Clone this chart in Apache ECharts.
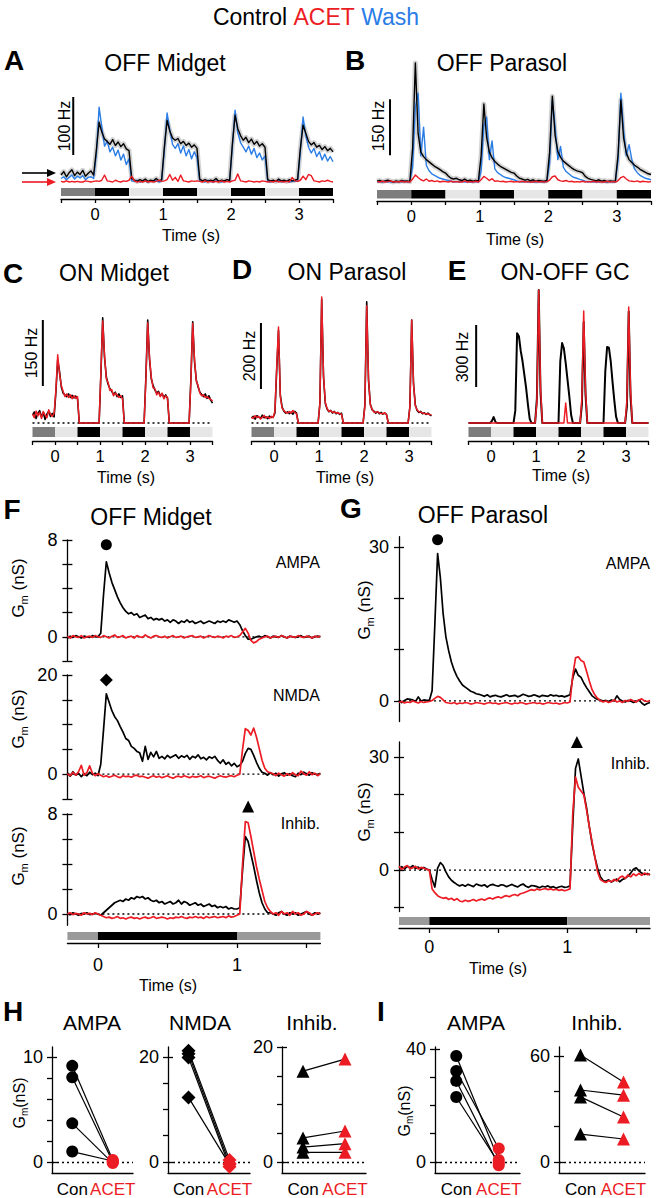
<!DOCTYPE html>
<html><head><meta charset="utf-8">
<script src="https://cdn.jsdelivr.net/npm/echarts@6/dist/echarts.min.js"></script>
<style>html,body{margin:0;padding:0;background:#fff}#c{width:656px;height:1198px}</style>
</head><body><div id="c"></div>
<script>
// ---------------- DATA ----------------
// sample times (s)
const tSpike = []; for (let i = 0; i <= 100; i++) tSpike.push(Math.round((-0.5 + 0.04 * i) * 100) / 100);
const tCond = []; for (let i = 0; i <= 91; i++) tCond.push(Math.round((-0.22 + 0.02 * i) * 100) / 100);

// stimulus segments: [start, end, level]  level 0 light, 1 dark, 2 grey, 3 mid grey
const stimOff = [[-0.5,0,2],[0,0.5,1],[0.5,1,0],[1,1.5,1],[1.5,2,0],[2,2.5,1],[2.5,3,0],[3,3.5,1]];
const stimOn  = [[-0.5,0,2],[0,0.5,0],[0.5,1,1],[1,1.5,0],[1.5,2,1],[2,2.5,0],[2.5,3,1],[3,3.5,0]];
const stimCond = [[-0.22,0,3],[0,1,1],[1,1.6,3]];

// A  OFF midget spike rate (Hz)
const aControl = [12,18,9,16,21,11,17,13,20,10,15,19,12,
 55,103,86,74,70,65,73,63,69,61,66,57,54,
 6,3,1,4,2,5,1,3,2,6,2,4,
 60,106,88,76,72,75,66,70,63,67,60,64,58,
 5,2,4,1,3,2,6,1,3,2,4,3,
 65,115,92,80,72,77,68,74,65,70,62,66,60,
 4,2,3,1,5,2,3,1,4,2,3,5,
 58,98,84,70,64,68,60,63,56,61,54,58,52];
const aWash = [6,9,4,8,12,5,10,7,11,4,8,9,6,
 48,129,95,62,70,52,60,45,55,38,48,30,40,
 2,1,3,0,2,1,0,2,1,3,0,1,
 55,119,90,65,58,66,50,62,45,56,40,52,42,
 1,2,0,3,1,0,2,1,0,2,1,1,
 60,124,85,68,60,52,62,48,58,42,50,38,45,
 1,0,2,1,3,0,1,2,0,1,2,1,
 52,112,80,60,50,58,44,52,38,48,36,44,35];
const aAcet = [1,0,2,0,1,0,1,0,0,2,1,0,1,
 2,1,3,12,2,1,0,3,1,0,2,1,3,
 10,2,0,1,0,2,0,1,0,1,3,1,
 2,4,13,3,8,1,12,2,1,0,2,1,2,
 1,0,2,0,1,0,1,0,2,0,1,0,
 2,3,14,2,1,0,2,1,0,1,0,2,1,
 0,1,0,2,0,1,0,1,0,8,2,1,
 3,10,4,13,11,2,1,0,2,1,3,1,0];

// B  OFF parasol
const bControl = [2,4,1,3,5,2,0,3,1,4,2,3,1,
 90,319,130,80,68,60,54,48,42,38,33,28,24,
 16,10,8,10,6,4,8,3,5,2,4,3,
 70,209,120,80,65,55,48,42,38,34,30,26,24,
 16,10,8,5,7,3,6,2,4,3,2,4,
 80,230,125,82,66,56,50,44,38,33,30,28,25,
 15,10,7,5,3,6,2,4,1,3,2,3,
 75,220,118,78,60,52,45,40,34,30,26,22,20];
const bWash = [0,1,0,2,0,1,0,0,1,0,2,0,1,
 40,200,238,70,147,45,30,22,18,14,10,8,6,
 4,2,0,1,0,2,0,1,0,0,1,0,
 30,150,174,60,110,35,25,20,15,12,10,8,6,
 3,1,0,2,0,1,0,0,1,0,0,1,
 50,220,150,60,95,40,28,22,16,12,10,7,5,
 2,0,1,0,1,0,2,0,0,1,0,0,
 60,238,140,70,100,60,35,25,18,14,10,8,6];
const bAcet = [1,0,2,0,1,3,0,1,0,2,0,1,0,
 8,19,12,6,3,8,2,4,1,3,0,2,1,
 0,2,0,1,0,0,3,0,1,0,2,0,
 6,15,10,4,9,2,3,1,2,0,1,2,0,
 1,0,2,0,1,0,0,2,0,1,0,1,
 5,14,16,6,3,2,4,1,2,0,1,0,2,
 0,1,0,2,0,1,0,0,2,0,1,0,
 4,12,15,8,3,2,1,3,0,2,1,0,1];

// C  ON midget
const cControl = [18,25,10,22,28,14,24,8,20,27,15,22,14,
 70,143,118,82,68,64,60,66,58,63,57,61,55,
 0,0,0,0,0,0,0,0,0,0,0,0,
 110,239,150,105,88,78,72,65,70,60,66,58,62,
 0,0,0,0,0,0,0,0,0,0,0,0,
 105,234,145,100,85,75,68,72,62,66,58,64,56,
 0,0,0,0,0,0,0,0,0,0,0,0,
 100,230,140,98,82,70,65,60,66,56,62,52,45];
const cAcet = [20,12,27,16,24,10,26,18,12,30,20,15,22,
 75,155,112,85,72,60,66,58,64,55,62,56,60,
 0,0,0,0,0,0,0,0,0,0,0,0,
 115,232,155,100,92,74,76,62,68,64,58,62,55,
 0,0,0,0,0,0,0,0,0,0,0,0,
 100,228,150,104,80,78,64,70,60,68,55,62,58,
 0,0,0,0,0,0,0,0,0,0,0,0,
 95,226,145,95,85,68,62,64,58,60,56,54,50];

// D  ON parasol
const dControl = [15,20,12,22,18,14,24,16,19,13,21,17,18,
 30,160,280,85,48,36,30,34,28,33,27,35,30,
 0,0,0,0,0,0,0,0,0,0,0,0,
 60,375,140,60,42,34,38,30,35,28,32,26,30,
 0,0,0,0,0,0,0,0,0,0,0,0,
 55,367,130,58,40,36,30,34,28,32,27,30,26,
 0,0,0,0,0,0,0,0,0,0,0,0,
 50,312,120,55,38,32,35,28,31,26,30,25,22];
const dAcet = [18,14,22,16,20,12,17,23,15,19,14,20,16,
 35,170,291,80,45,38,32,30,35,30,38,32,28,
 0,0,0,0,0,0,0,0,0,0,0,0,
 58,382,145,62,44,35,37,32,34,30,31,28,27,
 0,0,0,0,0,0,0,0,0,0,0,0,
 52,355,135,55,42,33,32,35,30,29,28,31,25,
 0,0,0,0,0,0,0,0,0,0,0,0,
 48,312,118,52,40,34,33,30,29,28,27,26,24];

// E  ON-OFF GC
const eControl = [0,0,0,0,0,0,0,0,0,0,0,0,0,
 10,29,5,0,0,0,0,0,0,0,0,0,0,
 60,435,420,350,300,235,170,90,20,0,0,0,
 120,644,150,0,0,0,0,0,0,0,0,0,0,
 300,387,360,290,210,130,40,0,0,0,0,0,
 90,489,140,0,0,0,0,0,0,0,0,0,0,
 250,368,365,300,200,110,30,0,0,0,0,0,
 80,540,130,0,0,0,0,0,0,0,0,0,0];
const eAcet = [0,0,0,0,0,0,0,0,0,0,0,0,0,
 0,0,0,0,0,0,0,0,0,0,0,0,0,
 0,0,0,0,0,0,0,0,0,0,0,0,
 100,644,180,0,0,0,0,0,0,0,0,0,0,
 0,0,0,97,0,0,0,0,0,0,0,0,
 120,542,160,0,0,0,0,0,0,0,0,0,0,
 0,0,0,0,0,0,0,0,0,0,0,0,
 110,561,170,0,0,0,0,0,0,0,0,0,0];

// F  OFF midget conductances (nS)
const fAmpaControl = [-0.1,0.05,-0.05,0.1,0,-0.1,0.05,0,-0.05,0.1,0,0,
 0.3,3.5,6.2,5.3,4.5,3.9,3.3,2.8,2.4,2.1,
 1.9,2.0,1.8,1.9,1.6,1.7,1.8,1.5,1.6,1.4,
 1.5,1.4,1.5,1.3,1.4,1.2,1.4,1.3,1.1,1.3,
 1.2,1.4,1.2,1.3,1.1,1.2,1.3,1.1,1.2,1.3,
 1.2,1.1,1.3,1.2,1.3,1.2,1.4,1.3,1.2,1.3,
 1.0,0.5,0.1,-0.2,-0.2,-0.1,0,0.05,-0.05,0.1,
 0,-0.1,0.05,0,-0.05,0.1,0,-0.1,0.05,0,
 -0.05,0,0.1,-0.05,0,0.05,-0.1,0,0.05,0];
const fAmpaAcet = [0.05,-0.1,0.1,0,-0.05,0.1,-0.1,0,0.05,-0.05,0.1,0,
 -0.05,0.1,0,-0.1,0.05,0.15,-0.05,0,0.1,-0.1,
 0,0.05,-0.1,0.1,0,-0.05,0.15,0,-0.1,0.05,
 0.1,0,-0.05,0.05,-0.1,0,0.1,-0.05,0,0.05,
 -0.1,0,0.05,0.1,-0.05,0,0.05,-0.1,0,0.1,
 0,-0.05,0.05,0,-0.1,0.05,0,0.1,-0.05,0,
 0.1,0.4,0.7,0.3,-0.3,-0.5,-0.4,-0.2,-0.1,0,
 0.05,-0.1,0,0.05,-0.05,0.1,0,-0.1,0.05,0,
 -0.05,0.1,0,-0.05,0.05,0,-0.1,0.05,0,0.05];
const fNmdaControl = [0.3,-0.4,0.5,-0.2,0.2,-0.5,0.1,-0.3,0.4,-0.1,0.2,-0.3,
 2.0,9.0,16.2,14.5,12.8,11.6,10.8,9.6,8.5,7.2,
 6.8,5.6,5.2,4.6,4.3,2.6,5.6,3.0,4.4,3.5,
 4.6,3.2,3.6,3.1,3.8,3.3,3.6,3.9,3.2,3.7,
 3.4,3.8,3.0,3.6,3.3,3.9,3.1,3.4,2.9,3.5,
 3.2,3.6,2.8,2.2,2.9,2.0,2.4,1.7,2.2,1.5,
 1.8,2.6,4.2,5.2,5.0,3.8,2.4,1.2,0.4,0.2,
 -0.2,0.3,-0.1,0.2,-0.4,0.1,0.3,-0.2,0.1,-0.3,
 -0.5,0.2,-0.1,0.4,0.1,-0.2,0.3,0,-0.1,0.2];
const fNmdaAcet = [0.1,-0.3,0.4,-0.2,0.5,1.8,-0.2,0.3,1.7,0.2,-0.3,0.1,
 -0.2,-0.5,-0.3,-0.6,-0.4,-0.2,-0.5,-0.7,-0.3,-0.5,
 -0.4,-0.6,-0.3,-0.2,-0.5,-0.4,-0.6,-0.8,-0.5,-0.3,
 -0.6,-0.4,-0.7,-0.5,-0.3,-0.6,-0.8,-0.5,-0.4,-0.6,
 -0.3,-0.5,-0.7,-0.4,-0.6,-0.5,-0.3,-0.7,-0.5,-0.4,
 -0.6,-0.8,-0.5,-0.3,-0.5,-0.6,-0.4,-0.3,-0.5,-0.2,
 0.0,5.0,9.2,8.8,7.9,9.3,7.5,5.2,2.8,1.2,
 0.5,0.3,0.1,-0.3,0.2,-0.1,-0.4,0.1,-0.2,0.3,
 -0.1,-0.3,0.6,0.1,-0.2,0.5,-0.1,0.2,-0.3,0.1];
const fInhControl = [0.05,-0.05,0.1,0,-0.1,0.05,0,0.1,-0.05,0,0.05,0,
 -0.1,0.1,0.3,0.5,0.7,0.9,1.0,1.1,1.0,1.2,
 1.1,1.3,1.2,1.4,1.3,1.4,1.2,1.3,1.1,1.0,
 1.1,0.9,1.0,0.8,0.9,1.0,0.8,0.9,1.1,0.8,
 1.0,0.9,0.7,0.8,0.9,0.7,0.8,0.6,0.7,0.8,
 0.6,0.7,0.5,0.6,0.5,0.6,0.4,0.5,0.4,0.4,
 0.5,3.5,6.2,5.8,4.8,3.8,2.7,1.7,0.9,0.4,
 0.1,0.1,0,-0.1,0.1,0.2,0,-0.1,0.1,0,
 0.1,-0.1,0,0.1,0.2,0,-0.1,0.1,0,0.1];
const fInhAcet = [0,0.1,-0.05,0.05,0,-0.1,0.1,0,0.05,-0.05,0.1,0,
 -0.1,-0.2,-0.3,-0.25,-0.35,-0.3,-0.2,-0.35,-0.3,-0.4,
 -0.3,-0.25,-0.35,-0.3,-0.4,-0.3,-0.25,-0.35,-0.3,-0.2,
 -0.35,-0.3,-0.25,-0.3,-0.4,-0.3,-0.35,-0.25,-0.3,-0.2,
 -0.3,-0.35,-0.25,-0.3,-0.2,-0.3,-0.25,-0.35,-0.2,-0.3,
 -0.25,-0.2,-0.3,-0.25,-0.2,-0.3,-0.15,-0.25,-0.2,-0.1,
 0.0,4.0,7.4,7.3,6.2,5.0,3.8,2.8,1.9,1.0,
 0.5,0.2,0,0.1,-0.1,0.2,0,0.1,-0.1,0.2,
 0,0.1,-0.1,0,0.2,0.1,-0.1,0,0.1,0];

// G  OFF parasol conductances (nS)
const gAmpaControl = [0.2,-0.3,0.1,0.4,0.3,0.2,-0.1,0.8,0.0,0.2,0.1,
 0.1,2.0,15,28.7,24,17,12.5,9.8,7.6,6.0,
 4.8,3.9,3.1,2.7,2.3,1.9,1.7,1.4,1.3,1.1,
 0.9,1.2,0.8,1.0,1.1,0.9,0.8,1.0,1.2,0.9,
 1.0,1.1,0.8,1.0,1.3,1.1,0.9,1.0,1.2,1.0,
 0.8,1.1,1.0,0.9,1.2,1.0,1.1,0.9,1.0,0.8,
 1.0,1.2,4.5,6.2,5.0,4.6,3.5,2.6,1.8,1.0,
 0.6,0.3,0.2,0.0,0.1,-0.1,0.2,0.0,1.0,0.3,
 0.0,-0.2,0.1,0.0,-0.3,-0.1,0.2,-0.4,-0.8,-0.5,-0.3];
const gAmpaAcet = [-0.3,-0.1,-0.4,-0.2,-0.3,0.0,-0.2,-0.4,-0.1,-0.3,-0.2,
 -0.1,0.1,0.5,0.9,0.7,0.2,-0.3,-0.4,-0.5,-0.3,
 -0.6,-0.4,-0.5,-0.3,-0.4,-0.6,-0.5,-0.3,-0.4,-0.5,
 -0.6,-0.4,-0.3,-0.5,-0.4,-0.6,-0.5,-0.4,-0.3,-0.5,
 -0.6,-0.4,-0.5,-0.3,-0.4,-0.6,-0.5,-0.4,-0.3,-0.5,
 -0.4,-0.6,-0.5,-0.3,-0.4,-0.5,-0.4,-0.6,-0.5,-0.3,
 -0.4,-0.2,5.0,8.4,8.6,7.9,7.6,5.8,3.9,2.2,
 1.2,0.5,0.1,-0.2,0.0,-0.3,-0.1,0.2,-0.2,0.0,
 -0.3,0.1,-0.1,0.3,0.0,-0.2,0.2,0.4,0.0,-0.1,0.1];
const gInhControl = [0.5,0.9,0.3,1.0,0.6,1.2,0.4,0.8,0.2,0.7,0.3,
 0.0,-2.5,-4.5,0.5,2.0,1.2,-0.5,-1.8,-2.7,-3.3,
 -3.8,-4.2,-3.9,-4.3,-3.8,-4.1,-4.4,-3.7,-4.0,-4.2,
 -3.9,-4.5,-4.0,-3.8,-4.1,-4.3,-3.9,-4.0,-4.4,-4.1,
 -3.8,-4.2,-4.5,-4.0,-3.7,-4.3,-4.6,-4.1,-4.2,-4.4,
 -4.7,-4.3,-4.5,-4.2,-4.6,-4.4,-4.8,-4.5,-4.3,-4.6,
 -4.5,-4.2,12,27,29.5,25,20.5,16.5,11.5,7.0,
 3.5,0.5,-1.8,-2.8,-3.0,-2.6,-3.2,-2.8,-2.4,-3.1,
 -2.5,-2.2,-1.6,-0.8,0.2,0.6,-0.2,-0.8,-1.2,-0.9,-1.3];
const gInhAcet = [1.0,0.2,0.8,1.2,0.4,0.6,1.0,0.3,0.7,0.5,0.2,
 0.0,-5.0,-6.0,-6.8,-7.2,-7.5,-7.3,-7.8,-7.5,-8.0,
 -7.6,-8.2,-8.4,-8.0,-8.3,-8.1,-7.8,-8.2,-7.9,-7.7,
 -8.0,-7.6,-7.4,-7.7,-7.3,-7.1,-7.4,-7.0,-6.8,-7.1,
 -6.7,-6.5,-6.8,-6.3,-6.1,-5.8,-5.5,-5.2,-5.4,-5.0,
 -5.3,-5.1,-4.9,-5.2,-5.0,-5.3,-5.1,-5.4,-5.2,-5.5,
 -5.3,-5.0,15,24.7,22,21,20,16,11.5,7.5,
 3.5,-0.5,-2.5,-3.0,-3.3,-2.8,-3.1,-2.5,-2.9,-2.0,
 -1.6,-2.2,-1.3,-1.8,-1.0,-1.5,-0.9,-1.4,-0.8,-1.2,-1.0];

// peak markers [time, nS]
const fAmpaMark = [0.06, 7.6];
const fNmdaMark = [0.06, 19];
const fInhMark = [1.08, 8.6];
const gAmpaMark = [0.06, 31.4];
const gInhMark = [1.07, 34];

// H / I population (nS)
const groups = ['Con', 'ACET'];
const hAmpaCon = [9.2, 8.1, 3.7, 1.0];     const hAmpaAcet = [0.2, 0.0, -0.1, 0.1];
const hNmdaCon = [21.2, 20.6, 19.9, 12.3]; const hNmdaAcet = [0.4, -0.3, -0.9, -0.5];
const hInhCon = [15.8, 4.2, 2.6, 1.7];     const hInhAcet = [17.9, 5.4, 3.2, 1.7];
const iAmpaCon = [37.5, 32.2, 28.7, 23.0]; const iAmpaAcet = [0.7, 4.8, -1.2, -0.4];
const iInhCon = [60.5, 40.7, 36.8, 15.8];  const iInhAcet = [45.2, 37.8, 25.4, 13.0];

// ---------------- BUILD ----------------
const FONT = '"Liberation Sans", Arial, Helvetica, sans-serif';
const RED = '#ec1c24', BLUE = '#2b7de6', BLACK = '#000000';
const STIM_COLORS = ['#e6e6e6', '#000000', '#7d7d7d', '#9a9a9a'];
const grids = [], xAxes = [], yAxes = [], series = [], graphic = [];

function addGrid(rect, xa, ya, ya2) {
  const gi = grids.length;
  grids.push(Object.assign({outerBoundsMode: 'none', containLabel: false}, rect));
  const xi = xAxes.length; xAxes.push(Object.assign({gridIndex: gi}, xa));
  const yi = yAxes.length; yAxes.push(Object.assign({gridIndex: gi}, ya));
  let yi2 = null;
  if (ya2) { yi2 = yAxes.length; yAxes.push(Object.assign({gridIndex: gi}, ya2)); }
  return {xi, yi, yi2};
}
const hidden = (min, max) => ({type: 'value', min, max, show: false, axisLine: {onZero: false}});
function trace(g, t, v, color, width, opacity, z) {
  series.push({type: 'line', xAxisIndex: g.xi, yAxisIndex: g.yi, data: t.map((x, i) => [x, v[i]]),
    symbol: 'none', showSymbol: false, silent: true, z: z || 3,
    lineStyle: {color, width, opacity: opacity == null ? 1 : opacity, join: 'round'}});
}
function zeroLine(g, x0, x1) {
  series.push({type: 'line', xAxisIndex: g.xi, yAxisIndex: g.yi, data: [[x0, 0], [x1, 0]],
    symbol: 'none', silent: true, z: 1, lineStyle: {color: '#000', width: 1.3, type: [2, 3]}});
}
function stimBar(g, segs) {
  series.push({type: 'custom', xAxisIndex: g.xi, yAxisIndex: g.yi, data: segs, silent: true, clip: false,
    renderItem: (p, api) => {
      const a = api.coord([api.value(0), 1]), b = api.coord([api.value(1), 0]);
      return {type: 'rect', shape: {x: a[0], y: a[1], width: b[0] - a[0], height: b[1] - a[1]},
        style: {fill: STIM_COLORS[api.value(2)]}};
    }});
}
function scaleBar(g, t, from, len) {
  series.push({type: 'line', xAxisIndex: g.xi, yAxisIndex: g.yi, data: [[t, from], [t, from + len]],
    symbol: 'none', silent: true, z: 4, lineStyle: {color: '#000', width: 2}});
}
function T(x, y, text, size, o) {
  o = o || {};
  graphic.push({type: 'text', x, y, rotation: o.rot || 0, silent: true, z: 100,
    style: {text, fill: o.color || '#000', fontSize: size, fontFamily: FONT,
      fontWeight: o.bold ? 'bold' : 'normal', align: o.align || 'center', verticalAlign: 'middle', rich: o.rich}});
}
const timeAxis = (min, max, off, extra) => Object.assign({type: 'value', min, max, position: 'bottom', offset: off,
  axisLine: {show: true, onZero: false, lineStyle: {color: '#000', width: 1.3}},
  axisTick: {show: true, length: 4, lineStyle: {color: '#000', width: 1.3}},
  splitLine: {show: false}}, extra);

function spikePanel(p) {
  const g = addGrid({left: p.left, top: p.top, width: p.width, height: p.height}, hidden(-0.5, 3.5), hidden(p.ymin, p.ymax));
  if (p.dotted) zeroLine(g, -0.5, 3.5);
  p.traces.forEach(tr => trace(g, tSpike, tr.v, tr.c, tr.w, tr.o));
  scaleBar(g, p.bar[0], p.bar[1], p.bar[2]);
  const s = addGrid({left: p.left, top: p.stimTop, width: p.width, height: p.stimH},
    timeAxis(-0.5, 3.5, p.off, {interval: 0.5,
      axisLabel: {fontSize: 16.5, color: '#000', fontFamily: FONT, margin: 6,
        formatter: v => Math.abs(v - Math.round(v)) < 1e-6 ? String(Math.round(v)) : ''}}),
    hidden(0, 1));
  stimBar(s, p.stim);
}

// A
spikePanel({left: 61, width: 272, top: 89.2, height: 95.7, ymin: -5, ymax: 160, stimTop: 188, stimH: 8, off: 3, stim: stimOff,
  bar: [-0.32, 46.5, 100],
  traces: [{v: aControl, c: '#9c9c9c', w: 5, o: 0.45}, {v: aWash, c: BLUE, w: 1.4}, {v: aControl, c: BLACK, w: 1.4}, {v: aAcet, c: RED, w: 1.4}]});
// B
spikePanel({left: 377, width: 274, top: 47.6, height: 137.4, ymin: -8, ymax: 360, stimTop: 190, stimH: 8.5, off: 2.5, stim: stimOff,
  bar: [-0.31, 72, 150],
  traces: [{v: bControl, c: '#9c9c9c', w: 5, o: 0.45}, {v: bWash, c: BLUE, w: 1.4}, {v: bControl, c: BLACK, w: 1.4}, {v: bAcet, c: RED, w: 1.4}]});
// C
spikePanel({left: 32.5, width: 180, top: 313, height: 112.2, ymin: -5, ymax: 250, stimTop: 427, stimH: 10, off: 4, stim: stimOn, dotted: true,
  bar: [-0.27, 84, 150],
  traces: [{v: cControl, c: BLACK, w: 1.6}, {v: cAcet, c: RED, w: 1.5}]});
// D
spikePanel({left: 251.5, width: 180, top: 291, height: 133.65, ymin: -5, ymax: 400, stimTop: 427, stimH: 10, off: 4, stim: stimOn, dotted: true,
  bar: [-0.29, 103, 200],
  traces: [{v: dControl, c: BLACK, w: 1.6}, {v: dAcet, c: RED, w: 1.5}]});
// E
spikePanel({left: 468.5, width: 180, top: 282.5, height: 142.6, ymin: -10, ymax: 680, stimTop: 427, stimH: 10, off: 4, stim: stimOn,
  bar: [-0.33, 174, 300],
  traces: [{v: eControl, c: BLACK, w: 2}, {v: eAcet, c: RED, w: 1.5}]});

// conductance panels
function yPair(min, max, ticks, labels, innerTicks, fs, margin) {
  const tickStyle = {color: '#000', width: 1.3};
  return [
    {type: 'value', min, max, position: 'left', offset: 0, splitLine: {show: false},
      axisLine: {show: true, onZero: false, lineStyle: tickStyle},
      axisTick: {show: true, inside: false, length: 5, customValues: ticks, lineStyle: tickStyle},
      axisLabel: {show: true, customValues: labels, fontSize: fs, color: '#000', fontFamily: FONT, margin}},
    {type: 'value', min, max, position: 'left', offset: 0, splitLine: {show: false},
      axisLine: {show: false, onZero: false},
      axisTick: {show: true, inside: true, length: 5, customValues: innerTicks, lineStyle: tickStyle},
      axisLabel: {show: false}}
  ];
}
function condPanel(p) {
  const ya = yPair(p.min, p.max, p.ticks, p.labels, p.ticks, 18, 10);
  const g = addGrid({left: p.left, top: p.top, width: p.width, height: p.height}, hidden(-0.22, 1.6), ya[0], ya[1]);
  zeroLine(g, -0.22, 1.6);
  trace(g, tCond, p.black, BLACK, 1.7);
  trace(g, tCond, p.red, RED, 1.7);
  series.push({type: 'scatter', xAxisIndex: g.xi, yAxisIndex: g.yi, data: [p.mark], symbol: p.symbol,
    symbolSize: p.size, silent: true, z: 5, itemStyle: {color: '#000', opacity: 1}, clip: false});
}
function condStim(left, width, top, off, labelMargin) {
  const s = addGrid({left, top, width, height: 8},
    timeAxis(-0.22, 1.6, off, {axisTick: {show: true, length: 5, customValues: [0, 0.5, 1, 1.5], lineStyle: {color: '#000', width: 1.3}},
      axisLabel: {customValues: [0, 1], fontSize: 18, color: '#000', fontFamily: FONT, margin: labelMargin}}),
    hidden(0, 1));
  stimBar(s, stimCond);
}
// F
condPanel({left: 67.4, width: 253, top: 540, height: 121, min: -2, max: 8, ticks: [-2, 0, 2, 4, 6, 8], labels: [0, 8],
  black: fAmpaControl, red: fAmpaAcet, mark: fAmpaMark, symbol: 'circle', size: 11});
condPanel({left: 67.4, width: 253, top: 675, height: 124, min: -5, max: 20, ticks: [-5, 0, 5, 10, 15, 20], labels: [0, 20],
  black: fNmdaControl, red: fNmdaAcet, mark: fNmdaMark, symbol: 'diamond', size: 13});
condPanel({left: 67.4, width: 253, top: 814, height: 111.25, min: -0.9, max: 8, ticks: [0, 2, 4, 6, 8], labels: [0, 8],
  black: fInhControl, red: fInhAcet, mark: fInhMark, symbol: 'triangle', size: 12});
condStim(67.4, 253, 932, 3, 13);
// G
condPanel({left: 399, width: 251, top: 536.7, height: 184.8, min: -4, max: 32, ticks: [0, 10, 20, 30], labels: [0, 30],
  black: gAmpaControl, red: gAmpaAcet, mark: gAmpaMark, symbol: 'circle', size: 11});
condPanel({left: 399, width: 251, top: 742, height: 169.5, min: -11, max: 34, ticks: [-10, 0, 10, 20, 30], labels: [0, 30],
  black: gInhControl, red: gInhAcet, mark: gInhMark, symbol: 'triangle', size: 12});
condStim(399, 251, 917, 3, 10);

// H / I population panels
function popPanel(p) {
  const ya = yPair(p.min, p.max, p.ticks, p.labels, p.labels, 18, 9);
  const g = addGrid({left: p.left, top: 1047, width: p.width, height: 126},
    {type: 'category', data: groups, boundaryGap: true, position: 'bottom',
      axisLine: {show: true, onZero: false, lineStyle: {color: '#000', width: 1.3}},
      axisTick: {show: false},
      axisLabel: {interval: 0, hideOverlap: false, fontSize: 17, fontFamily: FONT, margin: 8,
        color: (v, i) => (v === 'Con' || i === 0) ? '#000' : RED}},
    ya[0], ya[1]);
  series.push({type: 'line', xAxisIndex: g.xi, yAxisIndex: g.yi, data: [[0, 0], [1, 0]], symbol: 'none', silent: true, z: 1,
    lineStyle: {opacity: 0},
    markLine: {silent: true, symbol: 'none', label: {show: false}, animation: false,
      lineStyle: {color: '#000', width: 1.3, type: [2, 3]}, data: [{yAxis: 0}]}});
  p.con.forEach((v, i) => {
    series.push({type: 'line', xAxisIndex: g.xi, yAxisIndex: g.yi, data: [[0, v], [1, p.acet[i]]], symbol: 'none', silent: true, z: 2,
      lineStyle: {color: '#000', width: 1.2}});
  });
  series.push({type: 'scatter', xAxisIndex: g.xi, yAxisIndex: g.yi, data: p.con.map(v => [0, v]), symbol: p.symbol, symbolSize: p.size,
    itemStyle: {color: '#000', opacity: 1}, silent: true, z: 4, clip: false});
  series.push({type: 'scatter', xAxisIndex: g.xi, yAxisIndex: g.yi, data: p.acet.map(v => [1, v]), symbol: p.symbol, symbolSize: p.size,
    itemStyle: {color: RED, opacity: 1}, silent: true, z: 5, clip: false});
}
popPanel({left: 52, width: 81, min: -1.05, max: 11, ticks: [0, 2, 4, 6, 8, 10], labels: [0, 10], con: hAmpaCon, acet: hAmpaAcet, symbol: 'circle', size: 12});
popPanel({left: 168, width: 82, min: -2.1, max: 21.9, ticks: [0, 5, 10, 15, 20], labels: [0, 20], con: hNmdaCon, acet: hNmdaAcet, symbol: 'diamond', size: 14});
popPanel({left: 282, width: 84, min: -1.9, max: 20, ticks: [0, 5, 10, 15, 20], labels: [0, 20], con: hInhCon, acet: hInhAcet, symbol: 'triangle', size: 13});
popPanel({left: 435, width: 85, min: -3.9, max: 40.7, ticks: [0, 10, 20, 30, 40], labels: [0, 40], con: iAmpaCon, acet: iAmpaAcet, symbol: 'circle', size: 12});
popPanel({left: 559, width: 86, min: -6.2, max: 65, ticks: [0, 20, 40, 60], labels: [0, 60], con: iInhCon, acet: iInhAcet, symbol: 'triangle', size: 13});

// ---------------- TEXT ----------------
const R = (size) => ({
  k: {fill: '#000', fontSize: size, fontFamily: FONT},
  r: {fill: RED, fontSize: size, fontFamily: FONT},
  b: {fill: BLUE, fontSize: size, fontFamily: FONT}
});
T(316, 17, '{k|Control} {r|ACET} {b|Wash}', 23, {rich: R(23)});
[['A', 14, 60], ['B', 355, 60], ['C', 13, 273], ['D', 242, 269], ['E', 457, 270], ['F', 12, 509], ['G', 351, 508], ['H', 13, 1011], ['I', 381, 1011]]
  .forEach(a => T(a[1], a[2], a[0], 28, {bold: true}));
[['OFF Midget', 165, 63], ['OFF Parasol', 502, 63], ['ON Midget', 114, 273], ['ON Parasol', 347, 272], ['ON-OFF GC', 565, 272],
 ['OFF Midget', 151, 517], ['OFF Parasol', 483, 515]].forEach(a => T(a[1], a[2], a[0], 23));
[['AMPA', 92, 1022], ['NMDA', 200, 1022], ['Inhib.', 312, 1022], ['AMPA', 476, 1022], ['Inhib.', 597, 1022]].forEach(a => T(a[1], a[2], a[0], 21));
[[191, 235], [515, 239], [126, 477], [345, 477], [561, 475], [168, 985], [498, 968]].forEach(a => T(a[0], a[1], 'Time (s)', 16));
[['100 Hz', 64, 126], ['150 Hz', 378, 126], ['150 Hz', 31, 353], ['200 Hz', 249, 356], ['300 Hz', 462, 357]]
  .forEach(a => T(a[1], a[2], a[0], 16, {rot: Math.PI / 2}));
[['AMPA', 320, 562], ['NMDA', 320, 695], ['Inhib.', 320, 823], ['AMPA', 650, 563], ['Inhib.', 650, 763]]
  .forEach(a => T(a[1], a[2], a[0], 16, {align: 'right'}));
const gmRich = (s) => ({g: {fontSize: s, fontFamily: FONT, fill: '#000', lineHeight: s + 5},
  m: {fontSize: Math.round(s * 0.65), fontFamily: FONT, fill: '#000', lineHeight: Math.round(s * 0.65), verticalAlign: 'bottom'}});
[[18, 588], [18, 719], [18, 856], [364, 610], [364, 812]].forEach(a => T(a[0], a[1], '{g|G}{m|m}{g| (nS)}', 17, {rot: Math.PI / 2, rich: gmRich(17)}));
[[19, 1103], [404, 1111]].forEach(a => T(a[0], a[1], '{g|G}{m|m}{g|(nS)}', 16, {rot: Math.PI / 2, rich: gmRich(16)}));
// spontaneous-rate arrows in A
[[173, '#000'], [182, RED]].forEach(a => {
  graphic.push({type: 'line', silent: true, z: 100, shape: {x1: 22, y1: a[0], x2: 50, y2: a[0]}, style: {stroke: a[1], lineWidth: 1.6}});
  graphic.push({type: 'polygon', silent: true, z: 100, shape: {points: [[47, a[0] - 4], [56, a[0]], [47, a[0] + 4]]}, style: {fill: a[1]}});
});

const chart = echarts.init(document.getElementById('c'), null, {renderer: 'svg', width: 656, height: 1198});
chart.setOption({animation: false, backgroundColor: '#ffffff', grid: grids, xAxis: xAxes, yAxis: yAxes, series, graphic: {elements: graphic}});
</script></body></html>
